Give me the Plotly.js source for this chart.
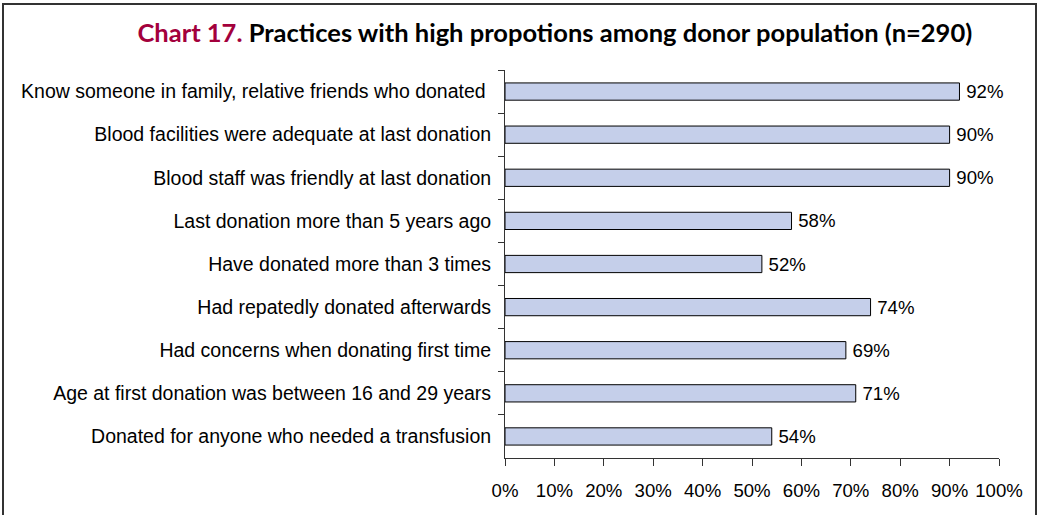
<!DOCTYPE html>
<html><head><meta charset="utf-8">
<script src="https://cdn.plot.ly/plotly-3.0.1.min.js"></script>
<style>
html,body{margin:0;padding:0;background:#fff;}
#wrap{position:relative;width:1039px;height:515px;}
#chart{width:1039px;height:515px;}
#frame{position:absolute;left:2px;top:3px;width:1031px;height:520px;border:2px solid #333;border-bottom:none;pointer-events:none;}
</style></head>
<body>
<div id="wrap"><div id="chart"></div><div id="frame"></div></div>
<script>
const categories = [
  "Know someone in family, relative friends who donated\u00a0",
  "Blood facilities were adequate at last donation",
  "Blood staff was friendly at last donation",
  "Last donation more than 5 years ago",
  "Have donated more than 3 times",
  "Had repatedly donated afterwards",
  "Had concerns when donating first time",
  "Age at first donation was between 16 and 29 years",
  "Donated for anyone who needed a transfusion"
];
const values = [92, 90, 90, 58, 52, 74, 69, 71, 54];
const tickVals = [0,10,20,30,40,50,60,70,80,90,100];
const tickText = tickVals.map(v => v + "%");

const trace = {
  type: "bar",
  orientation: "h",
  y: categories,
  x: values,
  text: values.map(v => "\u2009" + v + "%"),
  textposition: "outside",
  constraintext: "none",
  cliponaxis: false,
  textfont: {family: "Liberation Sans, Arial, sans-serif", size: 18.6, color: "#000"},
  marker: {color: "#c5cfea", line: {color: "#000", width: 1}},
  width: 0.4,
  hoverinfo: "skip"
};

const layout = {
  width: 1039, height: 515,
  margin: {l: 505, r: 40, t: 70, b: 57},
  paper_bgcolor: "#fff", plot_bgcolor: "#fff",
  showlegend: false,
  title: {
    text: '<span style="color:#a3003c">Chart 17.</span> Practices with high propotions among donor population (n=290)',
    font: {family: "Lato, Open Sans, sans-serif", size: 25.5, color: "#000", weight: "bold"},
    x: 0.534, xanchor: "center", y: 0.935, yanchor: "middle"
  },
  xaxis: {
    range: [0, 100], tickvals: tickVals, ticktext: tickText,
    showgrid: false, zeroline: false,
    showline: true, linecolor: "#333", linewidth: 1,
    ticks: "outside", ticklen: 7, tickcolor: "#333",
    ticklabelstandoff: 9,
    tickfont: {family: "Liberation Sans, Arial, sans-serif", size: 18.6, color: "#000"},
    fixedrange: true
  },
  yaxis: {
    type: "category", autorange: "reversed",
    showgrid: false, zeroline: false,
    showline: true, linecolor: "#333", linewidth: 1,
    ticks: "outside", ticklen: 6, tickcolor: "#333", tickson: "boundaries",
    ticklabelstandoff: 9,
    tickfont: {family: "Liberation Sans, Arial, sans-serif", size: 19.5, color: "#000"},
    fixedrange: true
  },
  bargap: 0.6
};

Plotly.newPlot("chart", [trace], layout, {displayModeBar: false, staticPlot: true});
</script>
</body></html>
